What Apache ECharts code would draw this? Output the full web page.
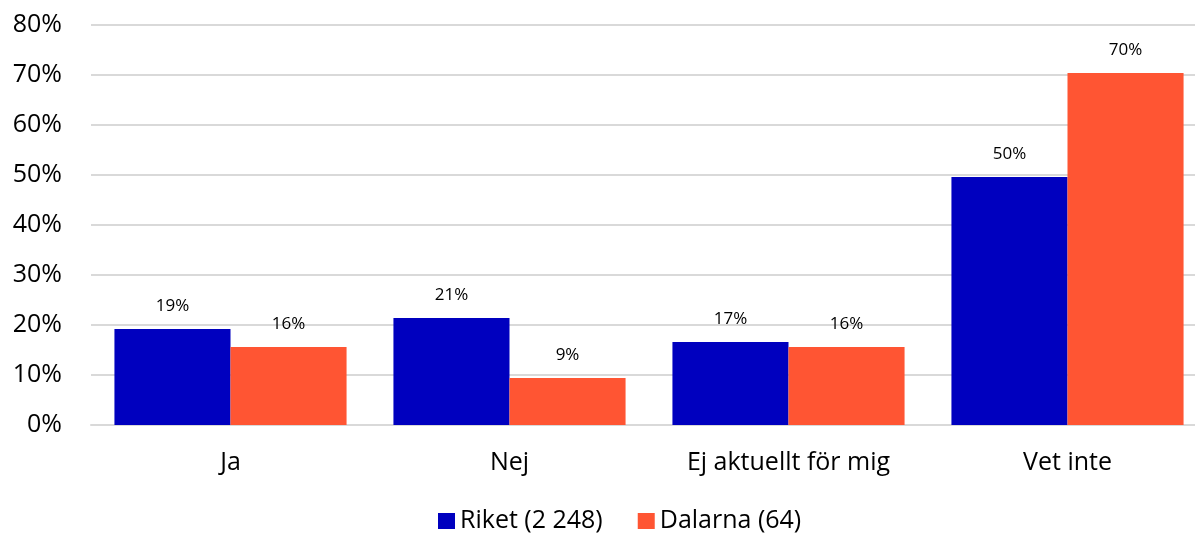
<!DOCTYPE html>
<html><head><meta charset="utf-8">
<script src="https://cdn.jsdelivr.net/npm/echarts@6/dist/echarts.min.js"></script>
<style>html,body{margin:0;padding:0;background:#fff;overflow:hidden;width:1195px;height:533px}#c{width:1207px;height:533px}</style>
</head><body><div id="c"></div>
<script>
const categories = ['Ja', 'Nej', 'Ej aktuellt för mig', 'Vet inte'];
const riket = [19.2, 21.4, 16.6, 49.6];
const dalarna = [15.6, 9.4, 15.6, 70.4];
const seriesNames = ['Riket (2 248)', 'Dalarna (64)'];
const FONT = '"Open Sans", "Noto Sans", sans-serif';
const chart = echarts.init(document.getElementById('c'));
const lbl = {show: true, position: 'top', distance: 14, color: '#000', fontSize: 17, fontFamily: FONT,
  formatter: p => Math.round(p.value) + '%'};
chart.setOption({
  animation: false,
  grid: {left: 91, top: 25, right: 0, height: 400, containLabel: false},
  legend: {left: 433, top: 503, itemWidth: 17, itemHeight: 16, itemGap: 35, icon: 'rect',
    textStyle: {fontSize: 25, lineHeight: 26, fontFamily: FONT, color: '#000'}, data: seriesNames},
  xAxis: {type: 'category', data: categories,
    axisLine: {lineStyle: {color: '#d9d9d9', width: 2}}, axisTick: {show: false},
    axisLabel: {fontSize: 25, fontFamily: FONT, color: '#000', margin: 25}},
  yAxis: {type: 'value', min: 0, max: 80, interval: 10,
    axisLabel: {formatter: '{value}%', fontSize: 25, fontFamily: FONT, color: '#000', margin: 29},
    splitLine: {lineStyle: {color: '#d9d9d9', width: 2}}, axisLine: {show: false}, axisTick: {show: false}},
  series: [
    {name: seriesNames[0], type: 'bar', data: riket, itemStyle: {color: '#0000BF'}, barGap: '0%', barCategoryGap: '16.8%', label: lbl},
    {name: seriesNames[1], type: 'bar', data: dalarna, itemStyle: {color: '#FF5533'}, barGap: '0%', barCategoryGap: '16.8%', label: lbl}
  ]
});
</script></body></html>
